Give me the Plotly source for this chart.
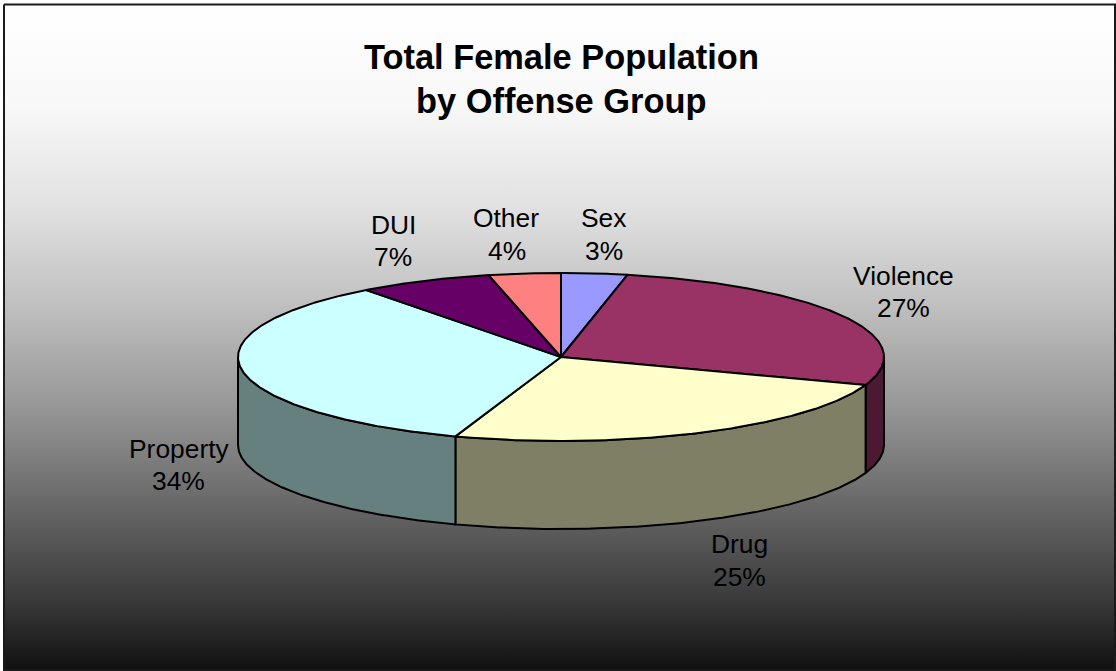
import math
import plotly.graph_objects as go

# Data
categories = ["Sex", "Violence", "Drug", "Property", "DUI", "Other"]
values = [3.3, 27.1, 24.9, 34.4, 6.7, 3.6]
title_lines = ["Total Female Population", "by Offense Group"]

# Styles
top_colors = ["#9999FF", "#993366", "#FFFFCC", "#CCFFFF", "#660066", "#FF8080"]
side_colors = ["#4C4C7F", "#4C1933", "#7F7F66", "#667F7F", "#330033", "#7F4040"]
grad_stops = [[0.0, "#FFFFFF"], [0.15, "#F8F8F8"], [0.3, "#E2E2E2"], [0.45, "#C0C0C0"],
              [0.6, "#989898"], [0.75, "#686868"], [0.9, "#383838"], [1.0, "#101010"]]

# Geometry (pixels)
W, H = 1116, 671
CX, CY, RX, RY, DEPTH = 561, 357, 323, 84, 88
label_pos = {
    "Sex": (603, 218, 604, 251), "Violence": (903, 276, 903, 308),
    "Drug": (739, 544, 739, 577), "Property": (179, 449, 178, 481),
    "DUI": (393, 225, 393, 257), "Other": (506, 218, 507, 251),
}


def pt(deg, drop=0):
    a = math.radians(deg)
    return CX + RX * math.sin(a), CY - RY * math.cos(a) + drop


def arc(a0, a1, drop=0):
    n = max(2, int(abs(a1 - a0) * 2) + 1)
    pts = [pt(a0 + (a1 - a0) * i / (n - 1), drop) for i in range(n)]
    return [p[0] for p in pts], [p[1] for p in pts]


total = sum(values)
edges = [0.0]
for v in values:
    edges.append(edges[-1] + v / total * 360)

fig = go.Figure()

# Background gradient panel
fig.add_trace(go.Scatter(
    x=[4, W - 1, W - 1, 4, 4], y=[4.5, 4.5, H - 1, H - 1, 4.5], mode="lines",
    line=dict(color="#1a1a1a", width=2), fill="toself",
    fillgradient=dict(type="vertical", colorscale=grad_stops, start=4.5, stop=H - 1),
    hoverinfo="skip", showlegend=False))

# Side walls: the visible front part of the rim
for i in range(len(values)):
    a0, a1 = max(edges[i], 90), min(edges[i + 1], 270)
    if a1 <= a0:
        continue
    xt, yt = arc(a0, a1)
    xb, yb = arc(a1, a0, DEPTH)
    fig.add_trace(go.Scatter(
        x=xt + xb + [xt[0]], y=yt + yb + [yt[0]], mode="lines",
        line=dict(color="black", width=2), fill="toself", fillcolor=side_colors[i],
        hoverinfo="skip", showlegend=False))

# Top slices
for i in range(len(values)):
    xa, ya = arc(edges[i], edges[i + 1])
    fig.add_trace(go.Scatter(
        x=[CX] + xa + [CX], y=[CY] + ya + [CY], mode="lines",
        line=dict(color="black", width=2), fill="toself", fillcolor=top_colors[i],
        hoverinfo="skip", showlegend=False))

annotations = []
for cat, val in zip(categories, values):
    x1, y1, x2, y2 = label_pos[cat]
    pct = f"{round(val / total * 100)}%"
    for x, y, t in ((x1, y1, cat), (x2, y2, pct)):
        annotations.append(dict(x=x, y=y, text=t, showarrow=False, xanchor="center", yanchor="middle",
                                font=dict(family="Liberation Sans", size=26.4, color="black")))
for y, t in zip((57, 101), title_lines):
    annotations.append(dict(x=561, y=y, text=f"<b>{t}</b>", showarrow=False, xanchor="center", yanchor="middle",
                            font=dict(family="Liberation Sans", size=34.4, color="black")))

fig.update_layout(
    width=W, height=H, margin=dict(l=0, r=0, t=0, b=0),
    paper_bgcolor="white", plot_bgcolor="white", showlegend=False,
    xaxis=dict(range=[0, W], visible=False, fixedrange=True),
    yaxis=dict(range=[H, 0], visible=False, fixedrange=True),
    annotations=annotations)

fig.write_html("out.html", config=dict(displayModeBar=False),
               post_script="document.body.style.margin='0';document.documentElement.style.overflow='hidden';")
